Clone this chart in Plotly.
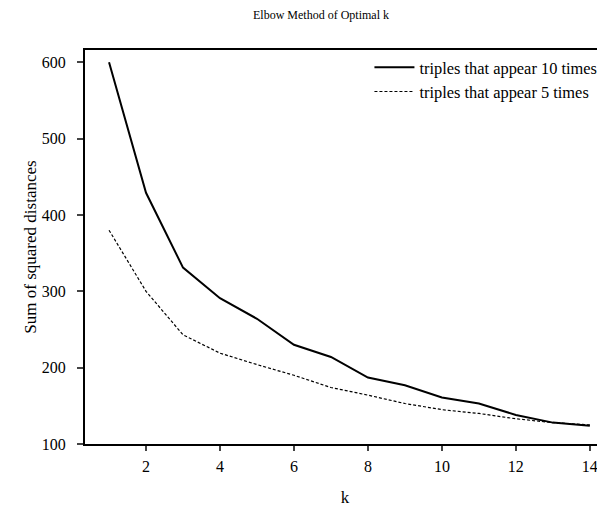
import plotly.graph_objects as go

k_values = list(range(1, 15))
sse_10_times = [600, 429, 331, 291, 264, 230, 214, 187, 177, 161, 153, 138, 128, 124]
sse_5_times = [380, 300, 243, 219, 204, 190, 174, 164, 153, 145, 140, 133, 128, 125]
x_ticks = [2, 4, 6, 8, 10, 12, 14]
y_ticks = [100, 200, 300, 400, 500, 600]

FONT = "Liberation Serif"

fig = go.Figure()
fig.add_trace(go.Scatter(x=k_values, y=sse_10_times, mode="lines",
                         name="triples that appear 10 times",
                         line=dict(color="black", width=2)))
fig.add_trace(go.Scatter(x=k_values, y=sse_5_times, mode="lines",
                         name="triples that appear 5 times",
                         line=dict(color="black", width=1.2, dash="3px,2px")))

fig.update_layout(
    width=597, height=504,
    margin=dict(l=77, r=0, t=42, b=68),
    paper_bgcolor="white", plot_bgcolor="white",
    font=dict(family=FONT, size=16, color="black"),
    showlegend=True,
    legend=dict(x=0.547, y=1.0, xanchor="left", yanchor="top",
                bgcolor="rgba(0,0,0,0)", font=dict(size=16.4, family=FONT),
                tracegroupgap=0, itemwidth=40),
    annotations=[
        dict(text="Elbow Method of Optimal k", x=0.4545, y=1, xref="paper", yref="paper",
             yshift=35, xanchor="center", yanchor="middle", showarrow=False,
             font=dict(size=12, family=FONT)),
    ],
)
fig.update_xaxes(range=[0.35, 14.41], tickvals=x_ticks, ticks="outside", ticklen=5,
                 tickwidth=2, showline=True, linewidth=2, linecolor="black",
                 mirror=True, showgrid=False, zeroline=False, automargin=False,
                 tickfont=dict(family=FONT, size=16), ticklabelstandoff=2,
                 title=dict(text="k", standoff=17, font=dict(size=17, family=FONT)))
fig.update_yaxes(range=[100, 616], tickvals=y_ticks, ticks="outside", ticklen=6,
                 tickwidth=2, showline=True, linewidth=2, linecolor="black",
                 mirror=False, showgrid=False, zeroline=False, automargin=False,
                 tickfont=dict(family=FONT, size=16), ticklabelstandoff=8,
                 title=dict(text="Sum of squared distances", standoff=1,
                            font=dict(size=17, family=FONT)))

fig.write_html("out.html")
